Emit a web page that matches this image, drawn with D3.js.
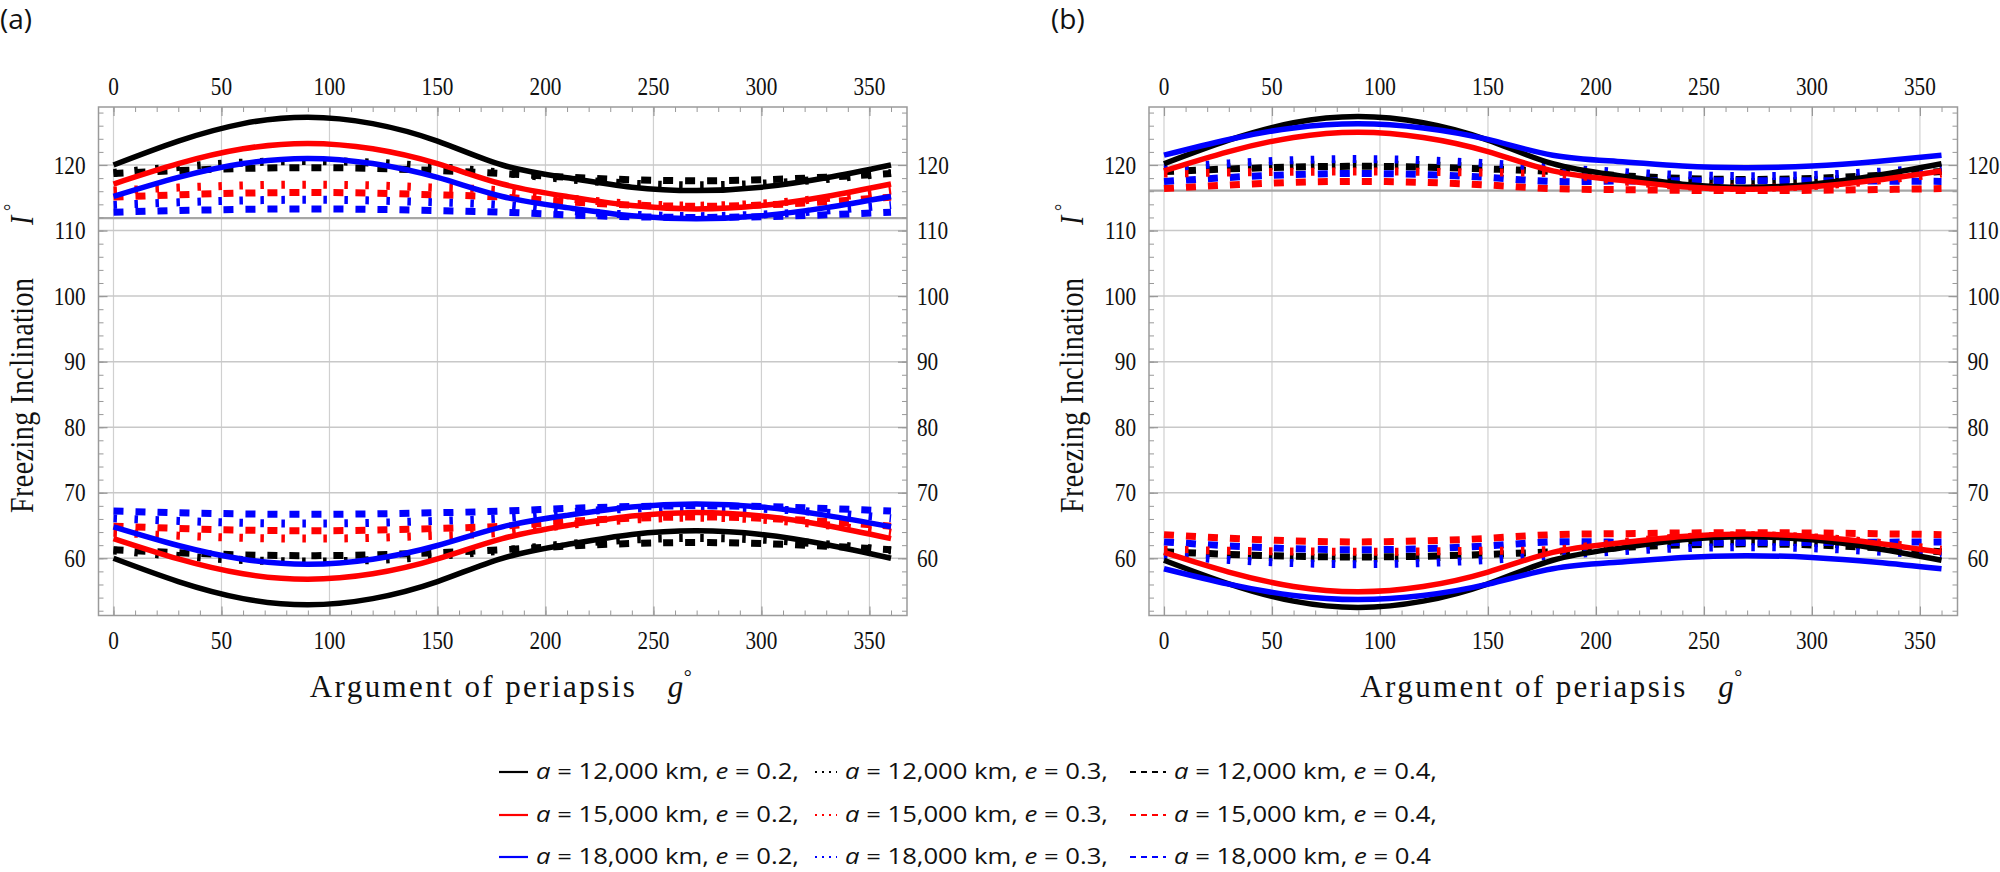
<!DOCTYPE html>
<html><head><meta charset="utf-8">
<script src="https://cdn.jsdelivr.net/npm/d3@7"></script>
<style>body{margin:0;background:#fff}svg{display:block}</style>
</head><body>
<svg id="c" width="2000" height="872"></svg>
<script>
// argument of periapsis samples (deg)
const G = [0,30,60,90,120,150,180,210,240,270,300,330,360];
const xTicks = [0,50,100,150,200,250,300,350];
const yTicks = [60,70,80,90,100,110,120];

// ---------- Panel (a) upper branch ----------
const A_up_12_02 = [120,123.65,126.32,127.3,126.32,123.65,120,118.05,116.62,116.1,116.62,118.05,120];
const A_up_12_03 = [118.8,119.7,120.36,120.6,120.36,119.7,118.8,117.85,117.15,116.9,117.15,117.85,118.8];
const A_up_12_04 = [118.7,119.15,119.48,119.6,119.48,119.15,118.7,118.15,117.75,117.6,117.75,118.15,118.7];
const A_up_15_02 = [117.1,120.2,122.47,123.3,122.47,120.2,117.1,115.2,113.81,113.3,113.81,115.2,117.1];
const A_up_15_03 = [116.1,116.55,116.88,117.0,116.88,116.55,116.1,114.95,114.11,113.8,114.11,114.95,116.1];
const A_up_15_04 = [115.1,115.45,115.71,115.8,115.71,115.45,115.1,114.4,113.89,113.7,113.89,114.4,115.1];
const A_up_18_02 = [115.2,118.1,120.22,121.0,120.22,118.1,115.2,113.5,112.26,111.8,112.26,113.5,115.2];
const A_up_18_03 = [113.9,114.3,114.59,114.7,114.59,114.3,113.9,113.05,112.43,112.2,112.43,113.05,113.9];
const A_up_18_04 = [112.8,113.05,113.23,113.3,113.23,113.05,112.8,112.4,112.11,112.0,112.11,112.4,112.8];
// ---------- Panel (a) lower branch ----------
const A_lo_12_02 = [60,56.45,53.85,52.9,53.85,56.45,60,62.1,63.64,64.2,63.64,62.1,60];
const A_lo_12_03 = [61.2,60.35,59.73,59.5,59.73,60.35,61.2,62.15,62.85,63.1,62.85,62.15,61.2];
const A_lo_12_04 = [61.3,60.85,60.52,60.4,60.52,60.85,61.3,61.85,62.25,62.4,62.25,61.85,61.3];
const A_lo_15_02 = [63,59.9,57.63,56.8,57.63,59.9,63,65,66.46,67,66.46,65,63];
const A_lo_15_03 = [63.9,63.45,63.12,63.0,63.12,63.45,63.9,65.05,65.89,66.2,65.89,65.05,63.9];
const A_lo_15_04 = [64.9,64.55,64.29,64.2,64.29,64.55,64.9,65.6,66.11,66.3,66.11,65.6,64.9];
const A_lo_18_02 = [64.8,61.95,59.86,59.1,59.86,61.95,64.8,66.55,67.83,68.3,67.83,66.55,64.8];
const A_lo_18_03 = [66.1,65.7,65.41,65.3,65.41,65.7,66.1,66.95,67.57,67.8,67.57,66.95,66.1];
const A_lo_18_04 = [67.2,66.95,66.77,66.7,66.77,66.95,67.2,67.6,67.89,68.0,67.89,67.6,67.2];
// ---------- Panel (b) upper branch ----------
const B_up_12_02 = [120.2,123.8,126.44,127.4,126.44,123.8,120.2,118.4,117.08,116.6,117.08,118.4,120.2];
const B_up_12_03 = [119.2,119.65,119.98,120.1,119.98,119.65,119.2,118.3,117.64,117.4,117.64,118.3,119.2];
const B_up_12_04 = [119.0,119.4,119.69,119.8,119.69,119.4,119.0,118.4,117.96,117.8,117.96,118.4,119.0];
const B_up_15_02 = [119.1,122.05,124.21,125.0,124.21,122.05,119.1,117.7,116.68,116.3,116.68,117.7,119.1];
const B_up_15_03 = [118.7,118.85,118.96,119.0,118.96,118.85,118.7,117.6,116.79,116.5,116.79,117.6,118.7];
const B_up_15_04 = [116.4,116.95,117.35,117.5,117.35,116.95,116.4,116.25,116.14,116.1,116.14,116.25,116.4];
const B_up_18_02 = [121.5,123.9,125.66,126.3,125.66,123.9,121.5,120.55,119.85,119.6,119.85,120.55,121.5];
const B_up_18_03 = [119.6,120.25,120.73,120.9,120.73,120.25,119.6,118.95,118.47,118.3,118.47,118.95,119.6];
const B_up_18_04 = [117.5,118.1,118.54,118.7,118.54,118.1,117.5,117.55,117.59,117.6,117.59,117.55,117.5];
// ---------- Panel (b) lower branch ----------
const B_lo_12_02 = [59.7,56.1,53.46,52.5,53.46,56.1,59.7,61.5,62.82,63.3,62.82,61.5,59.7];
const B_lo_12_03 = [60.9,60.45,60.12,60.0,60.12,60.45,60.9,61.75,62.37,62.6,62.37,61.75,60.9];
const B_lo_12_04 = [61.0,60.6,60.31,60.2,60.31,60.6,61.0,61.6,62.04,62.2,62.04,61.6,61.0];
const B_lo_15_02 = [60.9,57.9,55.7,54.9,55.7,57.9,60.9,62.3,63.32,63.7,63.32,62.3,60.9];
const B_lo_15_03 = [61.3,61.15,61.04,61.0,61.04,61.15,61.3,62.4,63.21,63.5,63.21,62.4,61.3];
const B_lo_15_04 = [63.6,63.05,62.65,62.5,62.65,63.05,63.6,63.75,63.86,63.9,63.86,63.75,63.6];
const B_lo_18_02 = [58.4,56.05,54.33,53.7,54.33,56.05,58.4,59.4,60.13,60.4,60.13,59.4,58.4];
const B_lo_18_03 = [60.4,59.75,59.27,59.1,59.27,59.75,60.4,61.05,61.53,61.7,61.53,61.05,60.4];
const B_lo_18_04 = [62.5,61.9,61.46,61.3,61.46,61.9,62.5,62.45,62.41,62.4,62.41,62.45,62.5];

const refLineA = 111.9, refLineB = 116.1;

const semiMajor = ["12,000","15,000","18,000"];
const eccs = ["0.2","0.3","0.4"];
const colors = ["#000000","#ff0000","#0000ff"];
const styles = ["solid","dotted","dashed"];

const seriesA = [
  [A_up_12_02,A_lo_12_02,0,0],[A_up_12_03,A_lo_12_03,0,1],[A_up_12_04,A_lo_12_04,0,2],
  [A_up_15_02,A_lo_15_02,1,0],[A_up_15_03,A_lo_15_03,1,1],[A_up_15_04,A_lo_15_04,1,2],
  [A_up_18_02,A_lo_18_02,2,0],[A_up_18_03,A_lo_18_03,2,1],[A_up_18_04,A_lo_18_04,2,2]];
const seriesB = [
  [B_up_12_02,B_lo_12_02,0,0],[B_up_12_03,B_lo_12_03,0,1],[B_up_12_04,B_lo_12_04,0,2],
  [B_up_15_02,B_lo_15_02,1,0],[B_up_15_03,B_lo_15_03,1,1],[B_up_15_04,B_lo_15_04,1,2],
  [B_up_18_02,B_lo_18_02,2,0],[B_up_18_03,B_lo_18_03,2,1],[B_up_18_04,B_lo_18_04,2,2]];

const svg = d3.select("#c");
const SERIF = "'Liberation Serif','Times New Roman',serif";
const SANS = "'Open Sans','Noto Sans',sans-serif";
const plotTop = 107, plotBottom = 615.5;
const xDomain = [-6.94, 367.4], yDomain = [51.27, 128.85];

function drawPanel(left, right, series, refVal, tag) {
  const x = d3.scaleLinear().domain(xDomain).range([left, right]);
  const y = d3.scaleLinear().domain(yDomain).range([plotBottom, plotTop]);
  const g = svg.append("g");
  // grid
  g.selectAll(null).data(xTicks).join("line")
    .attr("x1", d => x(d)).attr("x2", d => x(d)).attr("y1", plotTop).attr("y2", plotBottom)
    .attr("stroke", "#d0d0d0").attr("stroke-width", 1.2);
  g.selectAll(null).data(yTicks).join("line")
    .attr("y1", d => y(d)).attr("y2", d => y(d)).attr("x1", left).attr("x2", right)
    .attr("stroke", "#c8c8c8").attr("stroke-width", 1.5);
  g.append("line").attr("x1", left).attr("x2", right).attr("y1", y(refVal)).attr("y2", y(refVal))
    .attr("stroke", "#a6a6a6").attr("stroke-width", 2.2);

  // ticks (inward) through d3 axes
  const minorX = d3.range(0, 361, 10), minorY = d3.range(52, 129, 2);
  const axes = [
    [d3.axisBottom(x), `translate(0,${plotBottom})`, minorX, xTicks],
    [d3.axisTop(x), `translate(0,${plotTop})`, minorX, xTicks],
    [d3.axisLeft(y), `translate(${left},0)`, minorY, yTicks],
    [d3.axisRight(y), `translate(${right},0)`, minorY, yTicks]];
  axes.forEach(([ax, tr, minor, major]) => {
    g.append("g").attr("transform", tr)
      .call(ax.tickValues(minor).tickSize(-5).tickFormat(""))
      .call(s => { s.select(".domain").remove(); s.selectAll("line").attr("stroke", "#999").attr("stroke-width", 1); });
    g.append("g").attr("transform", tr)
      .call(ax.tickValues(major).tickSize(-9).tickFormat(""))
      .call(s => { s.select(".domain").remove(); s.selectAll("line").attr("stroke", "#999").attr("stroke-width", 1.2); });
  });

  // curves
  const line = d3.line().x((d, i) => x(G[i])).y(d => y(d)).curve(d3.curveNatural);
  const dashOf = { solid: null, dotted: "3.5,17.5", dashed: "10,12" };
  const widthOf = { solid: 5.5, dotted: 8, dashed: 7 };
  const order = ["dashed", "dotted", "solid"];
  order.forEach(st => {
    series.filter(s => styles[s[3]] === st).forEach(s => {
      [s[0], s[1]].forEach(arr => {
        g.append("path").attr("d", line(arr)).attr("fill", "none")
          .attr("stroke", colors[s[2]]).attr("stroke-width", widthOf[st])
          .attr("stroke-dasharray", dashOf[st]);
      });
    });
  });

  // frame
  g.append("rect").attr("x", left).attr("y", plotTop).attr("width", right - left).attr("height", plotBottom - plotTop)
    .attr("fill", "none").attr("stroke", "#9a9a9a").attr("stroke-width", 1.5);

  // tick labels
  const lab = (xx, yy, t, anchor) => g.append("text")
    .attr("transform", `translate(${xx},${yy}) scale(0.85,1)`)
    .attr("text-anchor", anchor).attr("font-family", SERIF).attr("font-size", 25).attr("fill", "#111").text(t);
  xTicks.forEach(d => { lab(x(d), 95, d, "middle"); lab(x(d), 649, d, "middle"); });
  yTicks.forEach(d => { lab(left - 13, y(d) + 8.5, d, "end"); lab(right + 10, y(d) + 8.5, d, "start"); });

  // x axis title
  const cx = (left + right) / 2;
  const xt = g.append("g").attr("font-family", SERIF).attr("font-size", 31).attr("fill", "#111");
  xt.append("text").attr("x", cx - 193).attr("y", 697)
    .attr("textLength", 325).attr("lengthAdjust", "spacing").text("Argument of periapsis");
  xt.append("text").attr("x", cx + 165).attr("y", 697).attr("font-style", "italic").text("g");
  xt.append("text").attr("x", cx + 181).attr("y", 684).attr("font-size", 20).text("°");

  // y axis title (rotated, glyphs slightly tall)
  const yt = g.append("g").attr("font-family", SERIF).attr("font-size", 28).attr("fill", "#111")
    .attr("transform", `translate(${left - 66},353) rotate(-90) scale(1,1.2)`);
  yt.append("text").attr("x", -160).attr("y", 0)
    .attr("textLength", 235).attr("lengthAdjust", "spacing").text("Freezing  Inclination");
  yt.append("text").attr("x", 128).attr("y", 0).attr("font-style", "italic").text("I");
  yt.append("text").attr("x", 142).attr("y", -12).attr("font-size", 18).text("°");

  svg.append("text").attr("x", tag === "(a)" ? 0 : left - 98).attr("y", 29)
    .attr("font-family", SANS).attr("font-size", 28).attr("fill", "#111").text(tag);
}

drawPanel(98.5, 907, seriesA, refLineA, "(a)");
drawPanel(1149, 1957.5, seriesB, refLineB, "(b)");

// legend
const rowsY = [779, 822, 864];
const sampleX = [499, 815, 1130];
const sampleW = [29, 22, 36];
const legDash = { solid: null, dotted: "2,5", dashed: "6,5" };
const lg = svg.append("g");
semiMajor.forEach((a, r) => {
  eccs.forEach((e, c) => {
    const yy = rowsY[r];
    const st = styles[c];
    lg.append("line").attr("x1", sampleX[c]).attr("x2", sampleX[c] + sampleW[c])
      .attr("y1", yy - 7).attr("y2", yy - 7).attr("stroke", colors[r])
      .attr("stroke-width", st === "solid" ? 2.2 : 2).attr("stroke-dasharray", legDash[st]);
    const last = (r === 2 && c === 2);
    const tx = lg.append("text").attr("x", sampleX[c] + sampleW[c] + 8).attr("y", yy)
      .attr("font-family", SANS).attr("font-size", 22).attr("fill", "#111")
      .attr("textLength", last ? 257 : 263).attr("lengthAdjust", "spacingAndGlyphs");
    tx.append("tspan").attr("font-style", "italic").text("a");
    tx.append("tspan").text(` = ${a} km, `);
    tx.append("tspan").attr("font-style", "italic").text("e");
    tx.append("tspan").text(` = ${e}` + (last ? "" : ","));
  });
});
</script>
</body></html>
